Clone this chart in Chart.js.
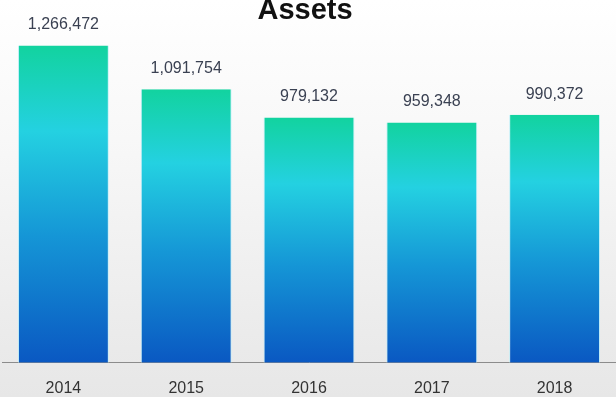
<!DOCTYPE html>
<html>
<head>
<meta charset="utf-8">
<script src="https://cdn.jsdelivr.net/npm/chart.js@4/dist/chart.umd.min.js"></script>
<style>
  html, body { margin: 0; padding: 0; }
  body {
    width: 616px; height: 397px; overflow: hidden;
    background: linear-gradient(to bottom, #ffffff 0%, #f8f8f8 35%, #ececec 80%, #e7e7e7 100%);
  }
  canvas { display: block; }
</style>
</head>
<body>
<canvas id="chart" width="616" height="397"></canvas>
<script>
// Yearly asset totals
const years = ['2014', '2015', '2016', '2017', '2018'];
const assets = [1266472, 1091754, 979132, 959348, 990372];
const chartTitle = 'Assets';

// Vertical green → cyan → blue fill, stretched over each bar's own height
function barGradient(ctx) {
  const chart = ctx.chart;
  const area = chart.chartArea;
  if (!area || ctx.type !== 'data') return '#1bb8d8';
  const top = chart.scales.y.getPixelForValue(ctx.raw);
  const g = chart.ctx.createLinearGradient(0, top, 0, area.bottom);
  g.addColorStop(0, '#12d39f');
  g.addColorStop(0.27, '#24d1e1');
  g.addColorStop(0.6, '#1596d6');
  g.addColorStop(1, '#0a58c2');
  return g;
}

// Title text at the top of the canvas
const titlePlugin = {
  id: 'assetTitle',
  afterDraw(chart) {
    const c = chart.ctx;
    c.save();
    c.font = 'bold 29px "Liberation Sans", Arial, sans-serif';
    c.fillStyle = '#111111';
    c.textAlign = 'center';
    c.textBaseline = 'alphabetic';
    c.fillText(chartTitle, 305, 19);
    c.restore();
  }
};

// Value labels above every bar
const valueLabels = {
  id: 'valueLabels',
  afterDatasetsDraw(chart) {
    const c = chart.ctx;
    const meta = chart.getDatasetMeta(0);
    c.save();
    c.font = '16px "Liberation Sans", Arial, sans-serif';
    c.fillStyle = '#3a4152';
    c.textAlign = 'center';
    c.textBaseline = 'alphabetic';
    meta.data.forEach((bar, i) => {
      c.fillText(assets[i].toLocaleString('en-US'), bar.x, bar.y - 16);
    });
    c.restore();
  }
};

new Chart(document.getElementById('chart'), {
  type: 'bar',
  data: {
    labels: years,
    datasets: [{
      data: assets,
      backgroundColor: barGradient,
      borderColor: 'rgba(190, 238, 248, 0.9)',
      borderWidth: { left: 1, right: 1, top: 0, bottom: 0 },
      categoryPercentage: 1,
      barPercentage: 0.74
    }]
  },
  options: {
    responsive: false,
    animation: false,
    devicePixelRatio: 1,
    layout: { padding: { top: 12, left: 2, right: 0, bottom: -17 } },
    plugins: {
      legend: { display: false },
      tooltip: { enabled: false },
      title: { display: false }
    },
    scales: {
      x: {
        grid: { display: false, drawTicks: false },
        border: { display: true, color: '#8c8c8c', width: 1 },
        ticks: {
          color: '#333333',
          padding: 16,
          font: { family: '"Liberation Sans", Arial, sans-serif', size: 16 }
        }
      },
      y: {
        display: false,
        min: 0,
        max: 1400000
      }
    }
  },
  plugins: [titlePlugin, valueLabels]
});
</script>
</body>
</html>
